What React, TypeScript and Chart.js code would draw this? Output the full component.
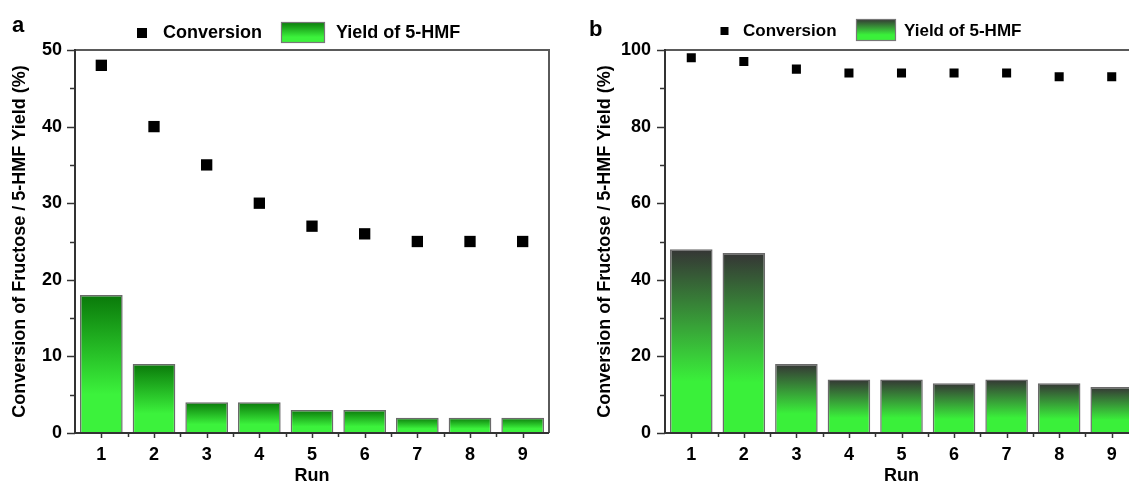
import { useEffect, useRef } from 'react';
import { Chart, registerables } from 'chart.js';

Chart.register(...registerables);

const runs = ['1', '2', '3', '4', '5', '6', '7', '8', '9'];
const conversionA = [48, 40, 35, 30, 27, 26, 25, 25, 25];
const yieldA = [18, 9, 4, 4, 3, 3, 2, 2, 2];
const conversionB = [98, 97, 95, 94, 94, 94, 94, 93, 93];
const yieldB = [48, 47, 18, 14, 14, 13, 14, 13, 12];
const yTicksA = [0, 10, 20, 30, 40, 50];
const yTicksB = [0, 20, 40, 60, 80, 100];
const seriesLabels = ['Conversion', 'Yield of 5-HMF'];
const axisTitleY = 'Conversion of Fructose / 5-HMF Yield (%)';
const axisTitleX = 'Run';

const FONT = "'Liberation Sans', Arial, sans-serif";

type PanelCfg = {
  letter: string;
  conversion: number[];
  yields: number[];
  yTicks: number[];
  minorStep: number;
  left: number;
  width: number;
  padRight: number;
  axisW: number;
  titlePadTop: number;
  tickPad: number;
  pointR: number;
  topColor: string;
  bottomColor: string;
  letterPos: [number, number];
  legend: {
    font: number;
    markerX: number;
    markerY: number;
    markerS: number;
    text1X: number;
    boxX: number;
    boxY: number;
    boxW: number;
    boxH: number;
    text2X: number;
    textY: number;
  };
};

const panelA: PanelCfg = {
  letter: 'a',
  conversion: conversionA,
  yields: yieldA,
  yTicks: yTicksA,
  minorStep: 5,
  left: 0,
  width: 560,
  padRight: 11,
  axisW: 75,
  titlePadTop: 9,
  tickPad: 13,
  pointR: 8,
  topColor: '#0a790a',
  bottomColor: '#3cf23c',
  letterPos: [12, 32],
  legend: {
    font: 18,
    markerX: 142,
    markerY: 33,
    markerS: 10,
    text1X: 163,
    boxX: 281,
    boxY: 22,
    boxW: 44,
    boxH: 21,
    text2X: 336,
    textY: 33,
  },
};

const panelB: PanelCfg = {
  letter: 'b',
  conversion: conversionB,
  yields: yieldB,
  yTicks: yTicksB,
  minorStep: 10,
  left: 570,
  width: 580,
  padRight: 12,
  axisW: 95,
  titlePadTop: 24,
  tickPad: 14,
  pointR: 6.4,
  topColor: '#353535',
  bottomColor: '#3af03a',
  letterPos: [19, 36],
  legend: {
    font: 17,
    markerX: 154.5,
    markerY: 31,
    markerS: 8,
    text1X: 173,
    boxX: 286,
    boxY: 19,
    boxW: 40,
    boxH: 22,
    text2X: 334,
    textY: 31,
  },
};

function makeGradient(c: CanvasRenderingContext2D, y0: number, y1: number, top: string, bottom: string) {
  const g = c.createLinearGradient(0, y0, 0, y1);
  g.addColorStop(0, top);
  g.addColorStop(0.72, bottom);
  g.addColorStop(1, bottom);
  return g;
}

const decorPlugin = {
  id: 'decor',
  afterDraw(chart: any, _args: any, opts: any) {
    const cfg: PanelCfg = opts.cfg;
    if (!cfg) return;
    const c: CanvasRenderingContext2D = chart.ctx;
    const area = chart.chartArea;
    const xs = chart.scales.x;
    const ys = chart.scales.y;
    c.save();
    c.strokeStyle = '#5a5a5a';
    c.lineWidth = 2;
    c.beginPath();
    c.moveTo(area.left, area.top);
    c.lineTo(area.right, area.top);
    c.lineTo(area.right, area.bottom);
    c.stroke();
    c.strokeStyle = '#333333';
    c.lineWidth = 2;
    c.beginPath();
    c.moveTo(area.left, area.top - 1);
    c.lineTo(area.left, area.bottom);
    c.lineTo(area.right, area.bottom);
    c.stroke();
    c.lineWidth = 1.5;
    const ymin = cfg.yTicks[0];
    const ymax = cfg.yTicks[cfg.yTicks.length - 1];
    for (let v = ymin; v <= ymax + 1e-9; v += cfg.minorStep) {
      const y = Math.round(ys.getPixelForValue(v)) + 0.5;
      const major = cfg.yTicks.includes(v);
      c.beginPath();
      c.moveTo(area.left - (major ? 8 : 5), y);
      c.lineTo(area.left, y);
      c.stroke();
    }
    const n = runs.length;
    const step = n > 1 ? xs.getPixelForValue(1) - xs.getPixelForValue(0) : 0;
    for (let i = 0; i < n; i++) {
      const cx = Math.round(xs.getPixelForValue(i)) + 0.5;
      c.beginPath();
      c.moveTo(cx, area.bottom);
      c.lineTo(cx, area.bottom + 5);
      c.stroke();
      if (i < n - 1) {
        const bx = Math.round(xs.getPixelForValue(i) + step / 2) + 0.5;
        c.beginPath();
        c.moveTo(bx, area.bottom);
        c.lineTo(bx, area.bottom + 4);
        c.stroke();
      }
    }
    c.fillStyle = '#000';
    c.font = `bold 22px ${FONT}`;
    c.textAlign = 'left';
    c.textBaseline = 'alphabetic';
    c.fillText(cfg.letter, cfg.letterPos[0], cfg.letterPos[1]);
    const L = cfg.legend;
    c.fillStyle = '#000';
    c.fillRect(L.markerX - L.markerS / 2, L.markerY - L.markerS / 2, L.markerS, L.markerS);
    c.font = `bold ${L.font}px ${FONT}`;
    c.textBaseline = 'middle';
    c.fillText(seriesLabels[0], L.text1X, L.textY);
    c.fillStyle = makeGradient(c, L.boxY, L.boxY + L.boxH, cfg.topColor, cfg.bottomColor);
    c.fillRect(L.boxX, L.boxY, L.boxW, L.boxH);
    c.strokeStyle = '#777';
    c.lineWidth = 1.2;
    c.strokeRect(L.boxX + 0.5, L.boxY + 0.5, L.boxW - 1, L.boxH - 1);
    c.fillStyle = '#000';
    c.fillText(seriesLabels[1], L.text2X, L.textY);
    c.restore();
  },
};

function Panel({ cfg }: { cfg: PanelCfg }) {
  const ref = useRef<HTMLCanvasElement | null>(null);
  useEffect(() => {
    if (!ref.current) return;
    const ymin = cfg.yTicks[0];
    const ymax = cfg.yTicks[cfg.yTicks.length - 1];
    const chart = new Chart(ref.current, {
      type: 'bar',
      data: {
        labels: runs,
        datasets: [
          {
            type: 'line',
            label: seriesLabels[0],
            data: cfg.conversion,
            showLine: false,
            pointStyle: 'rect',
            pointRadius: cfg.pointR,
            pointBackgroundColor: '#000',
            pointBorderWidth: 0,
            order: 0,
          } as any,
          {
            type: 'bar',
            label: seriesLabels[1],
            data: cfg.yields,
            barPercentage: 0.81,
            categoryPercentage: 1,
            borderColor: '#6a6a6a',
            borderWidth: 1.5,
            backgroundColor: (ctx: any) => {
              const chart = ctx.chart;
              if (!chart.chartArea || ctx.type !== 'data') return cfg.bottomColor;
              const ysc = chart.scales.y;
              const v = ctx.raw as number;
              const y0 = ysc.getPixelForValue(v);
              const y1 = ysc.getPixelForValue(0);
              if (!isFinite(y0) || y1 - y0 < 1) return cfg.bottomColor;
              return makeGradient(chart.ctx, y0, y1, cfg.topColor, cfg.bottomColor);
            },
            order: 1,
          } as any,
        ],
      },
      options: {
        responsive: false,
        animation: false,
        events: [],
        layout: { padding: { left: 0, right: cfg.padRight, top: 50, bottom: 0 } },
        plugins: {
          legend: { display: false },
          tooltip: { enabled: false },
          decor: { cfg },
        } as any,
        scales: {
          x: {
            type: 'category',
            offset: true,
            grid: { display: false, drawTicks: false },
            border: { display: false },
            ticks: {
              color: '#000',
              font: { family: FONT, size: 18, weight: 'bold' },
              padding: 11,
              maxRotation: 0,
            },
            title: {
              display: true,
              text: axisTitleX,
              color: '#000',
              font: { family: FONT, size: 18, weight: 'bold' },
              padding: { top: 0, bottom: 0 },
            },
            afterFit: (s: any) => {
              s.height = 54;
            },
          },
          y: {
            min: ymin,
            max: ymax,
            grid: { display: false, drawTicks: false },
            border: { display: false },
            afterBuildTicks: (s: any) => {
              s.ticks = cfg.yTicks.map((v) => ({ value: v }));
            },
            ticks: {
              color: '#000',
              font: { family: FONT, size: 18, weight: 'bold' },
              padding: cfg.tickPad,
            },
            title: {
              display: true,
              text: axisTitleY,
              color: '#000',
              font: { family: FONT, size: 18, weight: 'bold' },
              padding: { top: cfg.titlePadTop, bottom: 0 },
            },
            afterFit: (s: any) => {
              s.width = cfg.axisW;
            },
          },
        },
      },
      plugins: [decorPlugin as any],
    });
    return () => chart.destroy();
  }, [cfg]);
  return (
    <canvas
      ref={ref}
      width={cfg.width}
      height={487}
      style={{ position: 'absolute', left: cfg.left, top: 0, display: 'block' }}
    />
  );
}

export default function App() {
  return (
    <div
      style={{
        position: 'fixed',
        left: 0,
        top: 0,
        width: 1129,
        height: 487,
        overflow: 'hidden',
        background: '#fff',
      }}
    >
      <Panel cfg={panelA} />
      <Panel cfg={panelB} />
    </div>
  );
}
